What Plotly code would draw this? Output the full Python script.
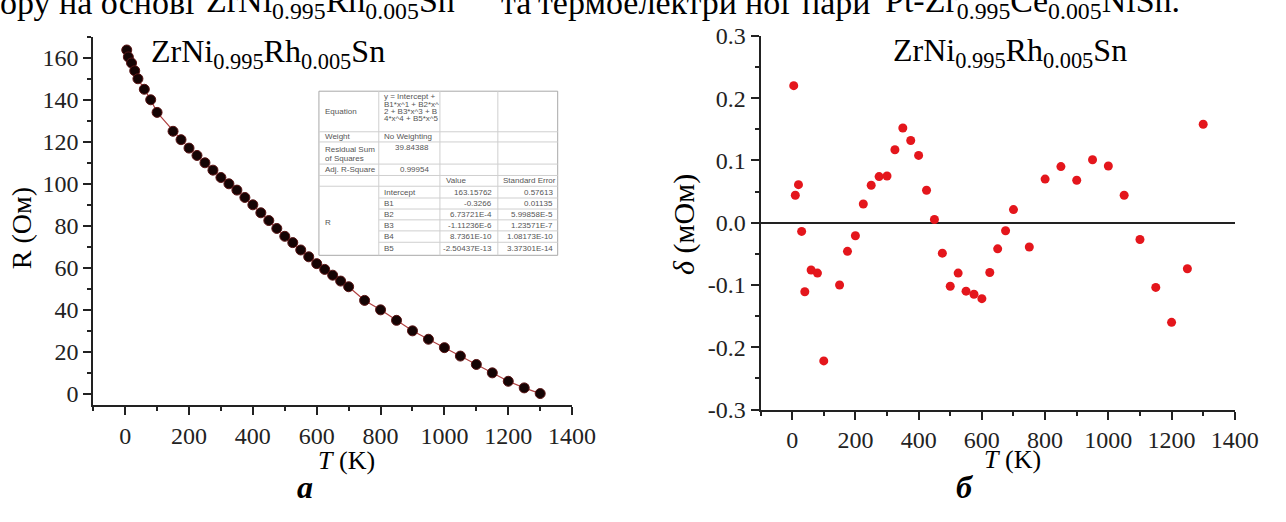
import plotly.graph_objects as go
import numpy as np

W, H = 1286, 522


def px(x):
    return x / W


def py(y):
    return 1 - y / H


# ---------------- data ----------------
T = [5, 10, 20, 30, 40, 60, 80, 100, 150, 175, 200, 225, 250, 275, 300, 325, 350, 375, 400,
     425, 450, 475, 500, 525, 550, 575, 600, 625, 650, 675, 700, 750, 800, 850, 900, 950,
     1000, 1050, 1100, 1150, 1200, 1250, 1300]
R = [163.7, 160.4, 157.5, 153.8, 150.0, 145.0, 140.0, 134.0, 125.0, 121.0, 117.0, 113.5,
     110.0, 106.5, 103.0, 100.0, 97.0, 93.5, 90.0, 86.2, 82.5, 78.75, 75.0, 72.0, 68.5,
     65.25, 62.0, 59.25, 56.5, 53.7, 51.0, 44.5, 40.0, 35.0, 30.0, 26.0, 22.0, 18.0, 14.0,
     10.0, 6.0, 2.85, 0.15]
delta = [0.220, 0.044, 0.061, -0.014, -0.111, -0.076, -0.081, -0.222, -0.100, -0.046,
         -0.021, 0.030, 0.060, 0.074, 0.075, 0.117, 0.152, 0.132, 0.108, 0.052, 0.005,
         -0.049, -0.102, -0.081, -0.110, -0.115, -0.122, -0.080, -0.042, -0.013, 0.021,
         -0.039, 0.070, 0.090, 0.068, 0.101, 0.091, 0.044, -0.027, -0.104, -0.160, -0.074,
         0.158]

x_ticks = [0, 200, 400, 600, 800, 1000, 1200, 1400]
x_ticklabels = ["0", "200", "400", "600", "800", "1000", "1200", "1400"]
r_ticks = [0, 20, 40, 60, 80, 100, 120, 140, 160]
r_ticklabels = ["0", "20", "40", "60", "80", "100", "120", "140", "160"]
d_ticks = [-0.3, -0.2, -0.1, 0.0, 0.1, 0.2, 0.3]
d_ticklabels = ["-0.3", "-0.2", "-0.1", "0.0", "0.1", "0.2", "0.3"]

formula = "ZrNi<sub>0.995</sub>Rh<sub>0.005</sub>Sn"
# cropped, justified caption line at the very top (word groups as seen)
top_words = ["ору на основі",
             "ZrNi<sub>0.995</sub>Rh<sub>0.005</sub>Sn",
             "та",
             "термоелектри",
             "ної",
             "пари",
             "Pt-Zr<sub>0.995</sub>Ce<sub>0.005</sub>NiSn."]

# fit table contents
eq_lines = ["y = Intercept +", "B1*x^1 + B2*x^", "2 + B3*x^3 + B", "4*x^4 + B5*x^5"]
param_names = ["Intercept", "B1", "B2", "B3", "B4", "B5"]
param_values = ["163.15762", "-0.3266", "6.73721E-4", "-1.11236E-6", "8.7361E-10", "-2.50437E-13"]
param_errors = ["0.57613", "0.01135", "5.99858E-5", "1.23571E-7", "1.08173E-10", "3.37301E-14"]
rss_value = "39.84388"
adj_r2_value = "0.99954"

# ---------------- figure ----------------
SERIF = "Liberation Serif, DejaVu Serif, serif"
AX = "#222222"

fig = go.Figure()

fig.add_trace(go.Scatter(
    x=T, y=R, mode="lines+markers", xaxis="x", yaxis="y",
    line=dict(color="#b04040", width=1.2),
    marker=dict(size=10, color="#150404", line=dict(color="#5a1414", width=1)),
    showlegend=False, hoverinfo="skip"))

fig.add_trace(go.Scatter(
    x=T, y=delta, mode="markers", xaxis="x2", yaxis="y2",
    marker=dict(size=9, color="#e4161c"),
    showlegend=False, hoverinfo="skip"))

common_axis = dict(
    showline=True, linewidth=2, linecolor=AX, showgrid=False, zeroline=False,
    ticks="outside", ticklen=8, tickwidth=2, tickcolor=AX,
    tickfont=dict(family=SERIF, size=24, color=AX), fixedrange=True,
)

fig.update_layout(
    width=W, height=H, autosize=False,
    font=dict(family=SERIF, color="black"),
    margin=dict(l=0, r=0, t=0, b=0),
    paper_bgcolor="white", plot_bgcolor="white",
    xaxis=dict(domain=[px(95), px(583)], range=[-100, 1400], anchor="y",
               tickmode="array", tickvals=x_ticks, ticktext=x_ticklabels,
               minor=dict(tickmode="array", tickvals=list(np.arange(-100, 1401, 100)),
                          ticks="outside", ticklen=4, tickwidth=2, tickcolor=AX),
               **common_axis),
    yaxis=dict(domain=[py(413), py(25)], range=[-5.5, 170], anchor="x",
               tickmode="array", tickvals=r_ticks, ticktext=r_ticklabels,
               minor=dict(tickmode="array", tickvals=list(np.arange(0, 171, 10)),
                          ticks="outside", ticklen=4, tickwidth=2, tickcolor=AX),
               **common_axis),
    xaxis2=dict(domain=[px(775), px(1258.3)], range=[-100, 1400], anchor="y2",
                tickmode="array", tickvals=x_ticks, ticktext=x_ticklabels,
                minor=dict(tickmode="array", tickvals=list(np.arange(-100, 1401, 100)),
                           ticks="outside", ticklen=4, tickwidth=2, tickcolor=AX),
                **common_axis),
    yaxis2=dict(domain=[py(417.3), py(24)], range=[-0.3, 0.3], anchor="x2",
                tickmode="array", tickvals=d_ticks, ticktext=d_ticklabels,
                minor=dict(tickmode="array", tickvals=list(np.round(np.arange(-0.3, 0.301, 0.05), 3)),
                           ticks="outside", ticklen=4, tickwidth=2, tickcolor=AX),
                **common_axis),
)
fig.update_layout(yaxis2=dict(zeroline=True, zerolinecolor=AX, zerolinewidth=2))

ann = []


def text(x, y, t, size, xanchor="center", yanchor="middle", angle=0, family=SERIF, color="black"):
    ann.append(dict(x=px(x), y=py(y), xref="paper", yref="paper", text=t, showarrow=False,
                    xanchor=xanchor, yanchor=yanchor, textangle=angle,
                    font=dict(family=family, size=size, color=color)))


# axis titles
text(22, 227, "R (Ом)", 28, angle=-90)
text(353, 471, "<i>T</i> (K)", 26)
text(697, 222, "<i>δ</i> (мОм)", 30, angle=-90)
text(1032, 470, "<i>T</i> (K)", 26)
# formulas
text(152, 43, formula, 32, xanchor="left")
text(908, 42, formula, 32, xanchor="left")
# panel letters
text(311, 499, "<b><i>а</i></b>", 32)
text(983, 499, "<b><i>б</i></b>", 32)
# cropped caption line at the top
for xpos, word in zip([-2, 208, 508, 546, 757, 815, 900], top_words):
    text(xpos, -11, word, 34, xanchor="left")

# ---------------- fit table ----------------
C = [325, 386, 448.3, 507.3, 568.3]
L = [82.3, 125, 135.7, 159, 171, 182.3, 194.7, 206.3, 217.7, 229.3, 241.3, 255]
shapes = []
GRID = "#cfcfcf"
shapes.append(dict(type="rect", xref="paper", yref="paper", x0=px(C[0]), x1=px(C[4]),
                   y0=py(L[11]), y1=py(L[0]), fillcolor="white",
                   line=dict(color="#a8a8a8", width=1), layer="above"))
for i in range(1, 6):
    shapes.append(dict(type="line", xref="paper", yref="paper", x0=px(C[0]), x1=px(C[4]),
                       y0=py(L[i]), y1=py(L[i]), line=dict(color=GRID, width=1), layer="above"))
for i in range(6, 11):
    shapes.append(dict(type="line", xref="paper", yref="paper", x0=px(C[1]), x1=px(C[4]),
                       y0=py(L[i]), y1=py(L[i]), line=dict(color=GRID, width=1), layer="above"))
for j in range(1, 4):
    shapes.append(dict(type="line", xref="paper", yref="paper", x0=px(C[j]), x1=px(C[j]),
                       y0=py(L[11]), y1=py(L[0]), line=dict(color=GRID, width=1), layer="above"))

TF = "Liberation Sans"
TC = "#555555"
TS = 8
text(C[0] + 4, 103.5, "Equation", TS, xanchor="left", family=TF, color=TC)
for k, line in enumerate(eq_lines):
    text(C[1] + 3, 88.3 + 7.5 * k, line, TS, xanchor="left", family=TF, color=TC)
text(C[0] + 4, 130.3, "Weight", TS, xanchor="left", family=TF, color=TC)
text(C[1] + 3, 130.3, "No Weighting", TS, xanchor="left", family=TF, color=TC)
text(C[0] + 4, 143.5, "Residual Sum", TS, xanchor="left", family=TF, color=TC)
text(C[0] + 4, 153.3, "of Squares", TS, xanchor="left", family=TF, color=TC)
text(C[2] - 9, 141.7, rss_value, TS, xanchor="right", family=TF, color=TC)
text(C[0] + 4, 165, "Adj. R-Square", TS, xanchor="left", family=TF, color=TC)
text(C[2] - 9, 165, adj_r2_value, TS, xanchor="right", family=TF, color=TC)
text(C[2] + 4, 176.7, "Value", TS, xanchor="left", family=TF, color=TC)
text(C[3] + 3, 176.7, "Standard Error", TS, xanchor="left", family=TF, color=TC)
text(C[0] + 4, 220, "R", TS, xanchor="left", family=TF, color=TC)
for k in range(6):
    yc = (L[5 + k] + L[6 + k]) / 2
    text(C[1] + 3, yc, param_names[k], TS, xanchor="left", family=TF, color=TC)
    text(C[3] - 4, yc, param_values[k], TS, xanchor="right", family=TF, color=TC)
    text(C[4] - 3, yc, param_errors[k], TS, xanchor="right", family=TF, color=TC)

fig.update_layout(annotations=ann, shapes=shapes)
fig.write_html("out.html")
